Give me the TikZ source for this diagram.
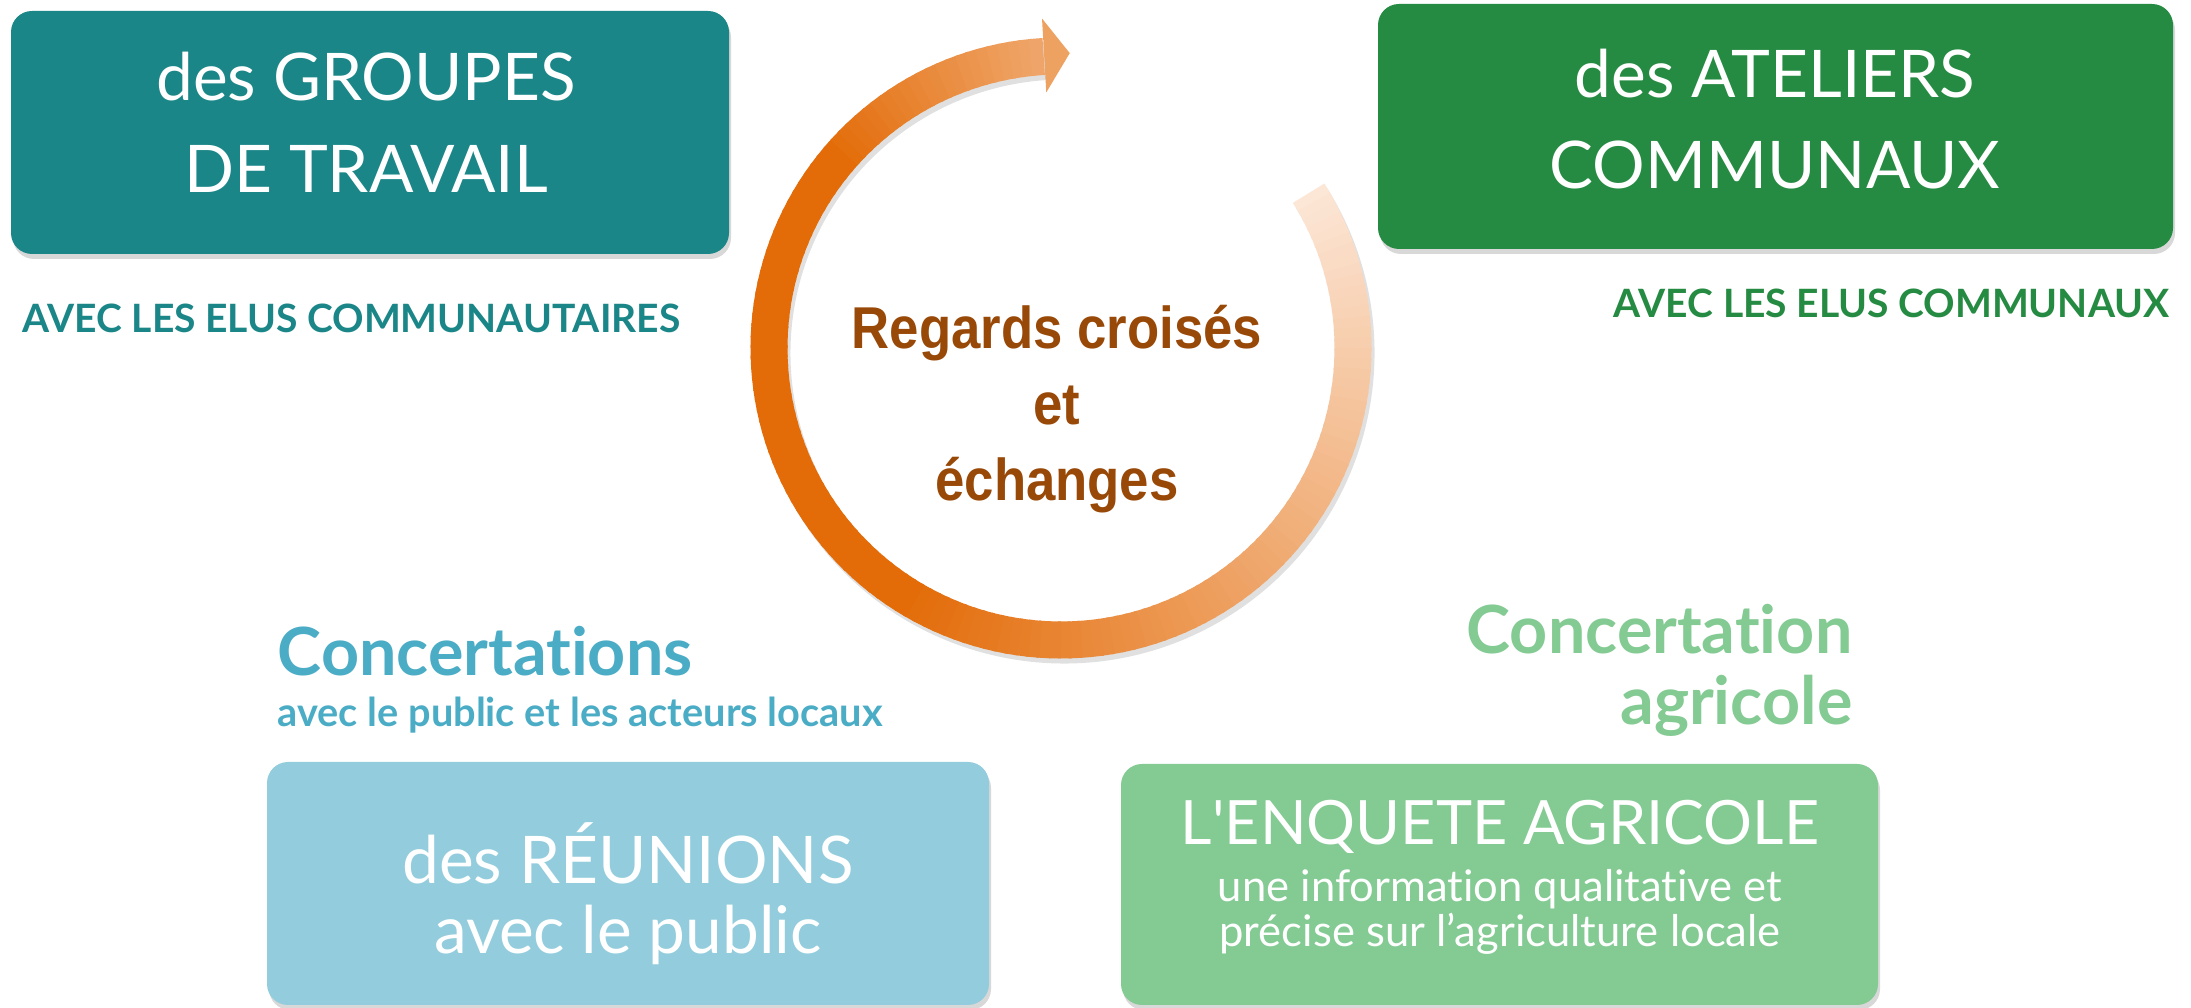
\documentclass[tikz,border=0pt]{standalone}
\usepackage{fontspec}
\setmainfont{Lato}[Ligatures=NoCommon]
\newfontfamily\arialfont{Liberation Sans}
\usetikzlibrary{shadows}

\definecolor{tealbox}{HTML}{1B8688}
\definecolor{greenbox}{HTML}{268B42}
\definecolor{bluetext}{HTML}{4BACC6}
\definecolor{bluebox}{HTML}{93CDDD}
\definecolor{agrigreen}{HTML}{83CA93}
\definecolor{ringdark}{HTML}{E36C09}
\definecolor{ringlight}{HTML}{FCE6D6}
\definecolor{ringhead}{HTML}{EEA262}
\definecolor{browntext}{HTML}{984807}

\tikzset{
  box/.style={rounded corners=0.21cm, inner sep=0pt,
    drop shadow={shadow xshift=0.02cm, shadow yshift=-0.05cm, opacity=0.3}},
  boxtext/.style={text=white, align=center, inner sep=0pt,
    font=\fontsize{18.7}{26}\selectfont},
  headline/.style={font=\bfseries\fontsize{18.9}{22}\selectfont, inner sep=0pt},
  subline/.style={font=\bfseries\fontsize{11.1}{12}\selectfont, inner sep=0pt},
  ring/.style={line width=0.37cm}
}

\begin{document}
\begin{tikzpicture}[>=stealth, line join=round]

  % Page frame (1px = 0.01cm)
  \fill[white] (0,0) rectangle (21.91,10.08);
  \useasboundingbox (0,0) rectangle (21.91,10.08);

  % Centre of the ring
  \coordinate (ctr) at (10.61,6.60);
  \coordinate (regardsPos) at (10.57,5.99);

  % Top left: groupes de travail
  \node[box, fill=tealbox, minimum width=7.18cm, minimum height=2.43cm] (groupes) at (3.70,8.755) {};
  \node[boxtext] (groupesTxt) at (3.66,8.855) {des GROUPES\\DE TRAVAIL};
  \node[subline, text=tealbox, anchor=west] (elusCom) at (0.22,6.90) {AVEC LES ELUS COMMUNAUTAIRES};

  % Top right: ateliers communaux
  \node[box, fill=greenbox, minimum width=7.95cm, minimum height=2.45cm] (ateliers) at (17.755,8.815) {};
  \node[boxtext] (ateliersTxt) at (17.75,8.89) {des ATELIERS\\COMMUNAUX};
  \node[subline, text=greenbox, anchor=east] (elusLoc) at (21.70,7.05) {AVEC LES ELUS COMMUNAUX};

  % Bottom left: reunions publiques
  \node[headline, text=bluetext, anchor=west] (concPub) at (2.77,3.57) {Concertations};
  \node[font=\bfseries\fontsize{11.3}{12}\selectfont, inner sep=0pt, text=bluetext, anchor=west] (acteurs) at (2.77,2.93) {avec le public et les acteurs locaux};
  \node[box, fill=bluebox, minimum width=7.22cm, minimum height=2.43cm] (reunions) at (6.28,1.245) {};
  \node[boxtext, font=\fontsize{18.7}{20}\selectfont] (reunionsTxt) at (6.28,1.145) {des RÉUNIONS\\avec le public};

  % Bottom right: enquete agricole
  \node[headline, text=agrigreen, anchor=east] (concAgri) at (18.53,3.79) {Concertation};
  \node[headline, text=agrigreen, anchor=east] (agricole) at (18.53,3.02) {agricole};
  \node[box, fill=agrigreen, minimum width=7.57cm, minimum height=2.41cm] (enquete) at (14.995,1.235) {};
  \node[boxtext, font=\fontsize{17.4}{20}\selectfont] (enqueteTitle) at (15.0,1.81) {L\textquotesingle ENQUETE AGRICOLE};
  \node[boxtext, font=\fontsize{12.4}{12.6}\selectfont] (enqueteTxt) at (15.0,0.96) {une information qualitative et\\précise sur l’agriculture locale};

  % Shadow of the ring
  \draw[ring, black, opacity=0.12] ([shift={(0.03,-0.05)}]ctr) ++(32:2.92) arc[start angle=32, delta angle=-298.6, radius=2.92];

  % Ring, light at the tail, dark on the left
  \foreach \a in {32,30,...,-264}{
    \pgfmathsetmacro{\p}{\a>-120 ? (32-\a)/152*100 : (\a>-220 ? 100 : 100-(-220-\a)/47*50)}
    \draw[ring, ringdark!\p!ringlight] (ctr) ++(\a:2.92) arc[start angle=\a, delta angle=-2.6, radius=2.92];
  }

  % Arrow head at the top
  \coordinate (headTop) at ([shift={(93.3:3.30)}]ctr);
  \coordinate (headBot) at ([shift={(93.3:2.56)}]ctr);
  \coordinate (headTip) at ([shift={(88.3:2.95)}]ctr);
  \fill[ringhead] (headTop) -- (headTip) -- (headBot) -- cycle;

  % Text in the ring
  \node[transform shape, yscale=1.12, font=\arialfont\bfseries\fontsize{15}{19.4}\selectfont, text=browntext, align=center] (regards) at (regardsPos) {Regards croisés\\et\\échanges};

\end{tikzpicture}
\end{document}
